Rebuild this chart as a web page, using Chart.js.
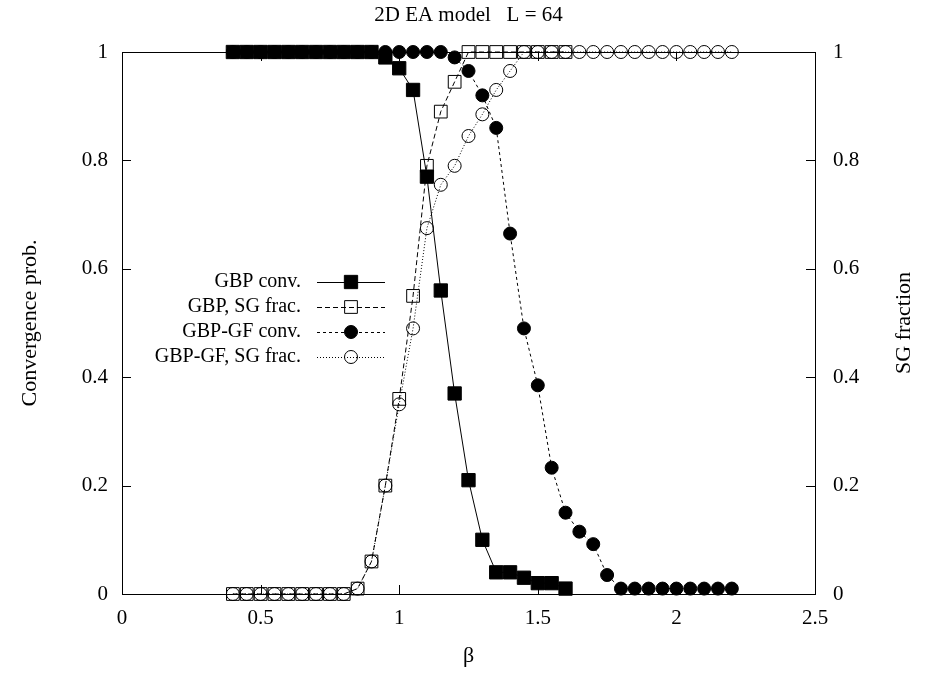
<!DOCTYPE html>
<html>
<head>
<meta charset="utf-8">
<script src="https://cdn.jsdelivr.net/npm/chart.js@4.4.1/dist/chart.umd.min.js"></script>
<style>
html,body{margin:0;padding:0;background:#fff;}
canvas{display:block;}
</style>
</head>
<body>
<canvas id="c" width="928" height="673"></canvas>
<script>
// ---- data ----
const betaGBP = [0.4,0.45,0.5,0.55,0.6,0.65,0.7,0.75,0.8,0.85,0.9,0.95,1.0,1.05,1.1,1.15,1.2,1.25,1.3,1.35,1.4,1.45,1.5,1.55,1.6];
const betaGF = [0.4,0.45,0.5,0.55,0.6,0.65,0.7,0.75,0.8,0.85,0.9,0.95,1.0,1.05,1.1,1.15,1.2,1.25,1.3,1.35,1.4,1.45,1.5,1.55,1.6,1.65,1.7,1.75,1.8,1.85,1.9,1.95,2.0,2.05,2.1,2.15,2.2];
const gbpConv = [1,1,1,1,1,1,1,1,1,1,1,0.99,0.97,0.93,0.77,0.56,0.37,0.21,0.10,0.04,0.04,0.03,0.02,0.02,0.01];
const gbpSG = [0,0,0,0,0,0,0,0,0,0.01,0.06,0.20,0.36,0.55,0.79,0.89,0.945,1,1,1,1,1,1,1,1];
const gfConv = [1,1,1,1,1,1,1,1,1,1,1,1,1,1,1,1,0.99,0.965,0.92,0.86,0.665,0.49,0.385,0.233,0.15,0.115,0.092,0.035,0.01,0.01,0.01,0.01,0.01,0.01,0.01,0.01,0.01];
const gfSG = [0,0,0,0,0,0,0,0,0,0.01,0.06,0.20,0.35,0.49,0.675,0.755,0.79,0.845,0.885,0.93,0.965,1,1,1,1,1,1,1,1,1,1,1,1,1,1,1,1];
const seriesNames = ["GBP conv.", "GBP, SG frac.", "GBP-GF conv.", "GBP-GF, SG frac."];
const xTicks = [0,0.5,1,1.5,2,2.5];
const yTicks = [0,0.2,0.4,0.6,0.8,1];
const titleText = "2D EA model   L = 64";
const xTitle = "β";
const yTitle = "Convergence prob.";
const y2Title = "SG fraction";

const FONT = "Liberation Serif";
const FS = 21;

function pts(xs, ys){ return xs.map((x,i)=>({x:x,y:ys[i]})); }

const styles = [
  {dash:[], ps:'rect', r:9.4, fill:'#000'},
  {dash:[5,3], ps:'rect', r:9, fill:'rgba(0,0,0,0)'},
  {dash:[3,3], ps:'circle', r:6.5, fill:'#000'},
  {dash:[1,2], ps:'circle', r:6.5, fill:'rgba(0,0,0,0)'}
];
const dataSets = [pts(betaGBP,gbpConv), pts(betaGBP,gbpSG), pts(betaGF,gfConv), pts(betaGF,gfSG)];

const datasets = dataSets.map((d,i)=>({
  label: seriesNames[i],
  data: d,
  borderColor:'#000',
  borderWidth:1,
  borderDash: styles[i].dash,
  backgroundColor: styles[i].fill,
  pointStyle: styles[i].ps,
  pointRadius: styles[i].r,
  pointBackgroundColor: styles[i].fill,
  pointBorderColor:'#000',
  pointBorderWidth:1,
  tension:0,
  fill:false,
  clip:false,
  order: 4-i,
  yAxisID:'y'
}));

const bgPlugin = {
  id:'bg',
  beforeDraw(chart){
    const ctx = chart.ctx;
    ctx.save(); ctx.fillStyle='#fff'; ctx.fillRect(0,0,chart.width,chart.height); ctx.restore();
  }
};

const framePlugin = {
  id:'frame',
  afterDraw(chart){
    const ctx = chart.ctx, a = chart.chartArea;
    const xs = chart.scales.x, ys = chart.scales.y;
    ctx.save();
    ctx.strokeStyle='#000'; ctx.lineWidth=1; ctx.setLineDash([]);
    ctx.strokeRect(a.left+0.5, a.top+0.5, a.right-a.left, a.bottom-a.top);
    const L = 9;
    ctx.beginPath();
    xTicks.forEach(v=>{
      const px = Math.round(xs.getPixelForValue(v))+0.5;
      ctx.moveTo(px, a.bottom); ctx.lineTo(px, a.bottom-L);
      ctx.moveTo(px, a.top); ctx.lineTo(px, a.top+L);
    });
    yTicks.forEach(v=>{
      const py = Math.round(ys.getPixelForValue(v))+0.5;
      ctx.moveTo(a.left, py); ctx.lineTo(a.left+L, py);
      ctx.moveTo(a.right, py); ctx.lineTo(a.right-L, py);
    });
    ctx.stroke();

    // texts
    ctx.fillStyle='#000';
    ctx.textAlign='center'; ctx.textBaseline='middle';
    ctx.font = FS+'px "'+FONT+'"';
    ctx.fillText(titleText, (a.left+a.right)/2, 15);
    ctx.font = '22px "'+FONT+'"';
    ctx.fillText(xTitle, (a.left+a.right)/2, 656);
    ctx.save();
    ctx.translate(30, (a.top+a.bottom)/2); ctx.rotate(-Math.PI/2);
    ctx.fillText(yTitle, 0, 0);
    ctx.restore();
    ctx.save();
    ctx.translate(904, (a.top+a.bottom)/2); ctx.rotate(-Math.PI/2);
    ctx.fillText(y2Title, 0, 0);
    ctx.restore();

    // legend
    ctx.font = '20px "'+FONT+'"';
    const rowY = [282, 307, 332, 357];
    ctx.textAlign='right';
    seriesNames.forEach((n,i)=>{
      const y = rowY[i];
      ctx.fillStyle='#000';
      ctx.fillText(n, 301, y);
      ctx.beginPath();
      ctx.setLineDash(styles[i].dash);
      ctx.moveTo(317, y+0.5); ctx.lineTo(385, y+0.5);
      ctx.stroke();
      ctx.setLineDash([]);
      const cx = 351, st = styles[i];
      ctx.beginPath();
      if (st.ps==='rect'){
        const s = st.r*Math.SQRT1_2;
        ctx.rect(cx-s, y-s, 2*s, 2*s);
      } else {
        ctx.arc(cx, y, st.r, 0, Math.PI*2);
      }
      if (st.fill !== 'rgba(0,0,0,0)') { ctx.fillStyle = st.fill; ctx.fill(); }
      ctx.stroke();
    });
    ctx.restore();
  }
};

const fmt = v => String(+(+v).toFixed(2));

new Chart(document.getElementById('c'), {
  type:'line',
  data:{datasets: datasets},
  options:{
    responsive:false,
    devicePixelRatio:1,
    animation:false,
    events:[],
    layout:{padding:{top:52,left:0,right:0,bottom:0}},
    plugins:{legend:{display:false}, tooltip:{enabled:false}, title:{display:false}},
    scales:{
      x:{
        type:'linear', min:0, max:2.5,
        afterBuildTicks(s){ s.ticks = xTicks.map(v=>({value:v})); },
        afterFit(s){ s.height = 79; },
        ticks:{color:'#000', font:{family:FONT, size:FS}, padding:12, callback:fmt, maxRotation:0, autoSkip:false},
        grid:{display:false, drawTicks:false},
        border:{display:false}
      },
      y:{
        type:'linear', position:'left', min:0, max:1,
        afterBuildTicks(s){ s.ticks = yTicks.map(v=>({value:v})); },
        afterFit(s){ s.width = 122; },
        ticks:{color:'#000', font:{family:FONT, size:FS}, padding:14, callback:fmt, autoSkip:false},
        grid:{display:false, drawTicks:false},
        border:{display:false}
      },
      y2:{
        type:'linear', position:'right', min:0, max:1,
        afterBuildTicks(s){ s.ticks = yTicks.map(v=>({value:v})); },
        afterFit(s){ s.width = 113; },
        ticks:{color:'#000', font:{family:FONT, size:FS}, padding:18, callback:fmt, autoSkip:false},
        grid:{display:false, drawTicks:false},
        border:{display:false}
      }
    }
  },
  plugins:[bgPlugin, framePlugin]
});
</script>
</body>
</html>
